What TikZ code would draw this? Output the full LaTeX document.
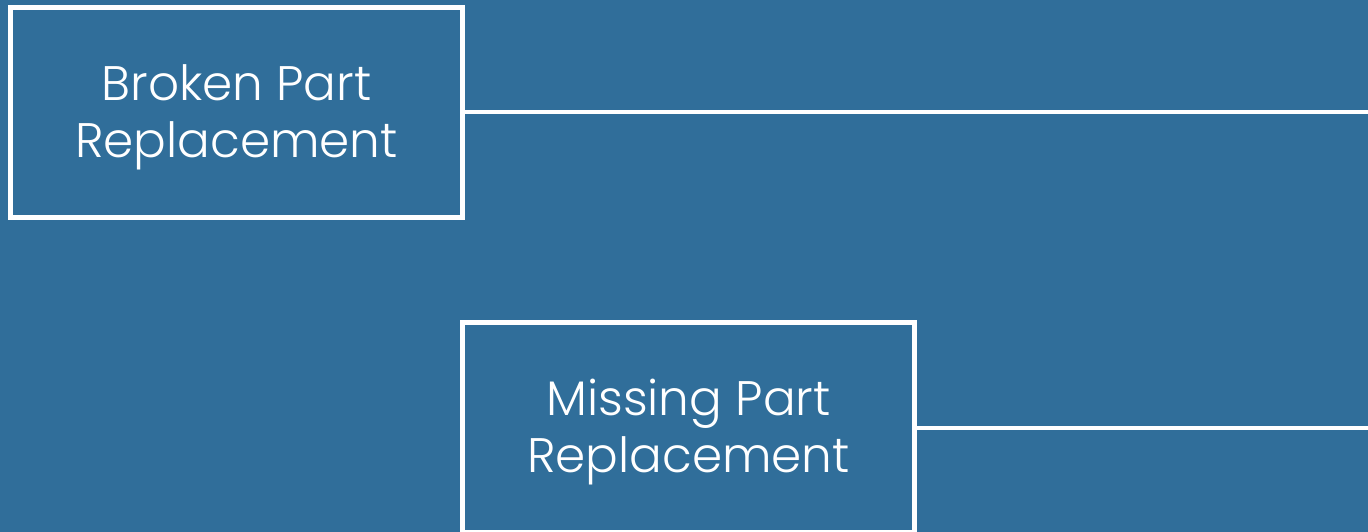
\documentclass[tikz,border=0pt]{standalone}
\usepackage{fontspec}
\setmainfont{Poppins}[UprightFont=* Light]
\usepackage{xcolor}
\usepackage{tikz}
\usetikzlibrary{positioning}
\definecolor{bgblue}{HTML}{306E9A}

\begin{document}
\begin{tikzpicture}[
  x=1pt, y=-1pt,
  partbox/.style={draw=white, line width=4.5pt, rectangle, minimum width=452pt, minimum height=210pt, inner sep=0pt, outer sep=0pt},
  partlabel/.style={font=\fontsize{48.5}{57}\selectfont, align=center, text=white, yshift=-5pt},
  link/.style={draw=white, line width=4pt}
]
\fill[bgblue] (0,0) rectangle (1368,532);
\useasboundingbox (0,0) rectangle (1368,532);
\node[partbox, label={[partlabel]center:Broken Part\\Replacement}] (broken) at (236.5,112.3) {};
\node[partbox, label={[partlabel]center:Missing Part\\Replacement}] (missing) at (688.5,427.5) {};
\coordinate (brokenend) at (1370,112.5);
\coordinate (missingend) at (1370,427.5);
\draw[link] (broken.east |- brokenend) -- (brokenend);
\draw[link] (missing.east |- missingend) -- (missingend);
\end{tikzpicture}
\end{document}
